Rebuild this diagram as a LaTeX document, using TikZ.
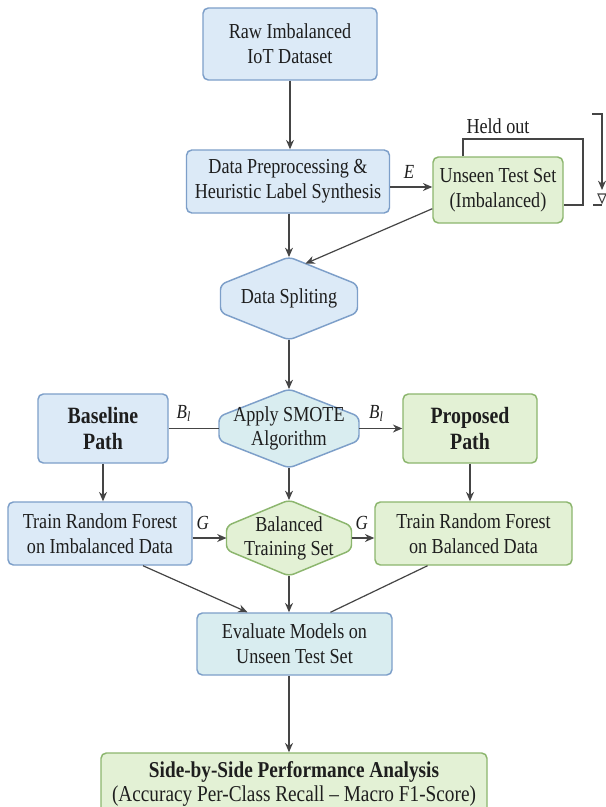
\documentclass[tikz,border=0pt]{standalone}
\usepackage{fontspec}
\setmainfont{Liberation Serif}[FakeStretch=0.85]
\usetikzlibrary{calc,arrows.meta}
\definecolor{bluefill}{HTML}{DCEAF7}
\definecolor{blueline}{HTML}{7D9FC9}
\definecolor{greenfill}{HTML}{E3F1D5}
\definecolor{greenline}{HTML}{8CB66E}
\definecolor{cyanfill}{HTML}{D9EDF0}
\definecolor{linec}{HTML}{454545}
\definecolor{textc}{HTML}{1E1E1E}
\newcommand\hexnode[8]{%
  \coordinate (#1-n) at (#2,{#3-#5});
  \coordinate (#1-s) at (#2,{#3+#5});
  \coordinate (#1-w) at ({#2-#4},#3);
  \coordinate (#1-e) at ({#2+#4},#3);
  \coordinate (#1-ur) at ({#2+#4},{#3-#6});
  \draw[#7, rounded corners=4pt] (#1-n) -- ({#2-#4},{#3-#6}) -- ({#2-#4},{#3+#6}) -- (#1-s) -- ({#2+#4},{#3+#6}) -- (#1-ur) -- cycle;
  \node[hextext] (#1) at (#2,#3) {#8};
}
\begin{document}
\begin{tikzpicture}[x=0.75pt,y=-0.75pt,
  box/.style={rectangle, rounded corners=4pt, line width=1.1pt, align=center, inner sep=0pt,
    text=textc, font=\fontsize{16}{18.5}\selectfont},
  bluebox/.style={box, draw=blueline, fill=bluefill},
  greenbox/.style={box, draw=greenline, fill=greenfill},
  cyanbox/.style={box, draw=blueline, fill=cyanfill},
  hextext/.style={align=center, inner sep=0pt, text=textc, font=\fontsize{16}{18}\selectfont},
  bluehex/.style={draw=blueline, fill=bluefill, line width=1.1pt},
  greenhex/.style={draw=greenline, fill=greenfill, line width=1.1pt},
  cyanhex/.style={draw=blueline, fill=cyanfill, line width=1.1pt},
  conn/.style={draw=linec, line width=0.9pt},
  arr/.style={conn, -{Stealth[length=7pt,width=6pt]}},
  lab/.style={text=textc, font=\fontsize{15}{17}\selectfont\itshape, inner sep=0pt},
  bigb/.style={font=\fontsize{17.5}{19}\selectfont\bfseries}
]
\useasboundingbox (0,0) rectangle (606,807);
\clip (0,0) rectangle (606,807);
\fill[white] (0,0) rectangle (606,807);

% boxes
\node[bluebox, minimum width=130.5pt, minimum height=54pt] (raw) at (290,44) {Raw Imbalanced\\IoT Dataset};
\node[bluebox, minimum width=152.25pt, minimum height=47.25pt] (pre) at (288,181.5) {Data Preprocessing \&\\Heuristic Label Synthesis};
\node[greenbox, minimum width=97.5pt, minimum height=49.5pt] (unseen) at (498,190) {Unseen Test Set\\(Imbalanced)};
\node[bluebox, bigb, minimum width=97.5pt, minimum height=51.75pt] (base) at (103,428.5) {Baseline\\Path};
\node[greenbox, bigb, minimum width=100.5pt, minimum height=51.75pt] (prop) at (470,428.5) {Proposed\\Path};
\node[bluebox, minimum width=138pt, minimum height=47.25pt] (trainI) at (100,533.5) {Train Random Forest\\on Imbalanced Data};
\node[greenbox, minimum width=147.75pt, minimum height=47.25pt] (trainB) at (473.5,533.5) {Train Random Forest\\on Balanced Data};
\node[cyanbox, minimum width=146.25pt, minimum height=46.5pt] (eval) at (294.5,644) {Evaluate Models on\\Unseen Test Set};
\node[greenbox, minimum width=289.5pt, minimum height=46.5pt, font=\fontsize{17}{18}\selectfont] (summ) at (294,784)
  {\textbf{Side-by-Side Performance Analysis}\\(Accuracy Per-Class Recall -- Macro F1-Score)};

% hexagons
\hexnode{split}{289}{298.5}{68.5}{41.5}{14}{bluehex}{Data Spliting}
\hexnode{smote}{289}{428.5}{70}{39.5}{12}{cyanhex}{Apply SMOTE\\Algorithm}
\hexnode{bal}{289}{538}{62.5}{38}{12}{greenhex}{Balanced\\Training Set}

% connectors
\draw[arr] (raw.south) -- (raw.south |- pre.north);
\draw[arr] (pre.south -| split-n) -- (split-n);
\coordinate (eL) at ($(pre.east)+(0,5.5)$);
\draw[arr] (eL) -- (eL -| unseen.west) node[lab, pos=0.45, above=6pt] {E};
\coordinate (uOut) at ($(unseen.south west)+(0,-15)$);
\draw[arr] (uOut) -- ($(split-n)!0.24!(split-ur)$);
\coordinate (hoR) at (583,139);
\draw[conn] ($(unseen.north)+(-35,0)$) |- (hoR) |- ($(unseen.east)+(0,15)$);
\node[text=textc, font=\fontsize{16}{18}\selectfont, inner sep=0pt] (held) at (498,126) {Held out};

% right-edge mark
\coordinate (artT) at (592,114);
\coordinate (artA) at (602,190);
\draw[arr] (artT) -| (artA);
\draw[draw=linec, line width=0.8pt] (598,194) -- (606,194) -- (602,203) -- cycle;
\coordinate (artB) at (593,205);
\draw[conn] (artB) -- ++(9,0);

\draw[arr] (split-s) -- (smote-n);
\draw[conn] (base.east) -- (smote-w) node[lab, pos=0.3, above=5pt] {B\textsubscript{\textit{l}}};
\draw[arr] (smote-e) -- (prop.west) node[lab, pos=0.4, above=5pt] {B\textsubscript{\textit{l}}};
\draw[arr] (base) -- (base |- trainI.north);
\draw[arr] (smote-s) -- (bal-n);
\draw[arr] (prop) -- (prop |- trainB.north);
\draw[arr] (trainI.east |- bal-w) -- (bal-w) node[lab, pos=0.3, above=6pt] {G};
\draw[arr] (bal-e) -- (bal-e -| trainB.west) node[lab, pos=0.45, above=6pt] {G};
\draw[arr] ($(trainI.south)+(43,0)$) -- ($(eval.north)+(-47,0)$);
\draw[arr] (bal-s) -- (bal-s |- eval.north);
\draw[conn] ($(trainB.south)+(-46,0)$) -- ($(eval.north)+(36,0)$);
\draw[arr] ($(eval.south)+(-5.5,0)$) -- ($(summ.north)+(-5,0)$);
\end{tikzpicture}
\end{document}
